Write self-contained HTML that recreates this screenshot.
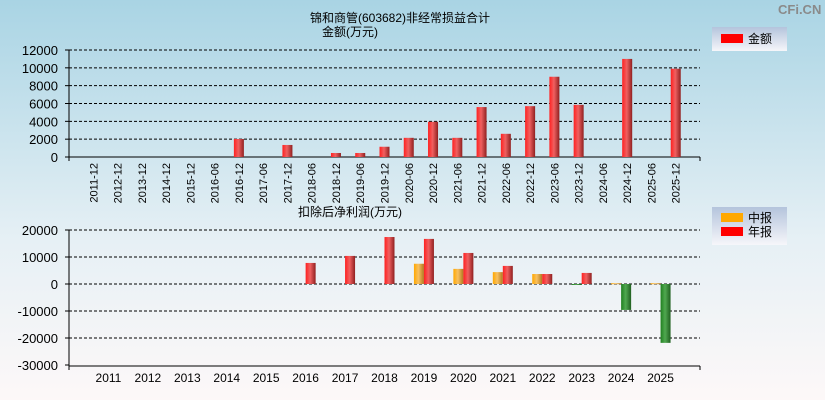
<!DOCTYPE html>
<html><head><meta charset="utf-8"><style>
body{margin:0;width:825px;height:400px;overflow:hidden}
svg{display:block;font-family:"Liberation Sans","Noto Sans CJK SC",sans-serif}
</style></head><body>
<svg id="c" width="825" height="400" xmlns="http://www.w3.org/2000/svg">
<defs>
<linearGradient id="bg" x1="0" y1="0" x2="0" y2="1"><stop offset="0" stop-color="#a9d4e4"/><stop offset="0.6" stop-color="#e6f0f5"/><stop offset="1" stop-color="#fdf8f8"/></linearGradient>
<linearGradient id="gr" x1="0" x2="1"><stop offset="0" stop-color="#ff2020"/><stop offset="0.45" stop-color="#f06060"/><stop offset="1" stop-color="#902020"/></linearGradient>
<linearGradient id="go" x1="0" x2="1"><stop offset="0" stop-color="#ffa800"/><stop offset="0.45" stop-color="#f8c060"/><stop offset="1" stop-color="#b07820"/></linearGradient>
<linearGradient id="gg" x1="0" x2="1"><stop offset="0" stop-color="#208020"/><stop offset="0.45" stop-color="#50a850"/><stop offset="1" stop-color="#206020"/></linearGradient>
<linearGradient id="lg" x1="0" y1="0" x2="0" y2="1"><stop offset="0" stop-color="#b4c4dc"/><stop offset="1" stop-color="#f6f6fa"/></linearGradient>
</defs>
<rect width="825" height="400" fill="url(#bg)"/>
<text x="778" y="14" font-size="13" font-weight="bold" fill="#8a8a8a">CFi.CN</text>
<text x="400" y="22" font-size="12" text-anchor="middle">锦和商管(603682)非经常损益合计</text>
<text x="350" y="36" font-size="12" text-anchor="middle">金额(万元)</text>
<text x="350" y="216" font-size="12" text-anchor="middle">扣除后净利润(万元)</text>
<g>
<rect x="712" y="27" width="75" height="24" fill="url(#lg)"/>
<rect x="721" y="34" width="22" height="9" fill="#ff0000"/>
<text x="748" y="43" font-size="12">金额</text>
</g>
<g>
<rect x="712" y="207" width="75" height="38" fill="url(#lg)"/>
<rect x="721" y="213" width="22" height="9" fill="#ffa800"/>
<text x="748" y="222" font-size="12">中报</text>
<rect x="721" y="227" width="22" height="9" fill="#ff0000"/>
<text x="748" y="236" font-size="12">年报</text>
</g>
<g id="top"></g><g id="bot"></g>
</svg>
<script>
const topCats=["2011-12","2012-12","2013-12","2014-12","2015-12","2016-06","2016-12","2017-06","2017-12","2018-06","2018-12","2019-06","2019-12","2020-06","2020-12","2021-06","2021-12","2022-06","2022-12","2023-06","2023-12","2024-06","2024-12","2025-06","2025-12"];
const topVals=[0,0,0,0,0,0,2020,0,1350,0,450,450,1150,2150,3950,2150,5600,2600,5700,9000,5850,0,11000,0,9900];
const topTicks=[0,2000,4000,6000,8000,10000,12000];
const years=["2011","2012","2013","2014","2015","2016","2017","2018","2019","2020","2021","2022","2023","2024","2025"];
const midVals=[0,0,0,0,0,0,0,0,7500,5600,4400,3700,-300,300,300];
const annVals=[0,0,0,0,0,7800,10400,17400,16700,11500,6700,3700,4100,-9600,-21800];
const botTicks=[-30000,-20000,-10000,0,10000,20000];
const NS="http://www.w3.org/2000/svg";
function mk(p,t,a){const e=document.createElementNS(NS,t);for(const k in a)e.setAttribute(k,a[k]);p.appendChild(e);return e;}
const L=69,R=700;
// top
const T=document.getElementById('top');
const ty=v=>157-v*(107/12000);
const tx=i=>L+(i+1)*(R-L)/(topCats.length+1);
topTicks.forEach(v=>{
 if(v>0){const g=mk(T,'line',{x1:L,x2:R,y1:ty(v),y2:ty(v),stroke:'#000','stroke-dasharray':'3,2'});
 
 }
 const t=mk(T,'text',{x:58,y:ty(v)+5,'font-size':13,'text-anchor':'end'});t.textContent=v;
 
 
 mk(T,'line',{x1:L-4,x2:L,y1:ty(v),y2:ty(v),stroke:'#000'});
});
mk(T,'line',{x1:L,x2:L,y1:ty(12000),y2:161,stroke:'#000'});
mk(T,'line',{x1:L,x2:R,y1:157,y2:157,stroke:'#000'});
mk(T,'line',{x1:R,x2:R,y1:157,y2:161,stroke:'#000'});
topCats.forEach((c,i)=>{
 const x=tx(i);
 const t=mk(T,'text',{x:0,y:0,'font-size':11,'text-anchor':'end',transform:`translate(${x+4},163) rotate(-90)`});t.textContent=c;
 
 
 const v=topVals[i];
 if(v>0){const r=mk(T,'rect',{x:x-5,y:ty(v),width:10,height:157-ty(v),fill:'url(#gr)'});
 
 }
});
// bottom
const B=document.getElementById('bot');
const by=v=>284-v*(27/10000);
const bx=i=>L+(i+1)*(R-L)/(years.length+1);
botTicks.forEach(v=>{
 if(v>-30000){const g=mk(B,'line',{x1:L,x2:R,y1:by(v),y2:by(v),stroke:'#000','stroke-dasharray':'3,2'});
 
 }
 const t=mk(B,'text',{x:58,y:by(v)+5,'font-size':13,'text-anchor':'end'});t.textContent=v;
 
 
 mk(B,'line',{x1:L-4,x2:L,y1:by(v),y2:by(v),stroke:'#000'});
});
mk(B,'line',{x1:L,x2:L,y1:by(20000),y2:370,stroke:'#000'});
mk(B,'line',{x1:L,x2:R,y1:366,y2:366,stroke:'#000'});
mk(B,'line',{x1:R,x2:R,y1:366,y2:370,stroke:'#000'});
years.forEach((y,i)=>{
 const x=bx(i);
 const t=mk(B,'text',{x:x,y:382,'font-size':12,'text-anchor':'middle'});t.textContent=y;
 
 
 [[midVals[i],x-10,'url(#go)','mid'],[annVals[i],x,'url(#gr)','annual']].forEach(([v,bx0,f,k])=>{
  if(v===0)return;
  const y0=Math.min(by(v),284),h=Math.max(Math.abs(by(v)-284),1);
  const r=mk(B,'rect',{x:bx0,y:y0,width:10,height:h,fill:v<0?'url(#gg)':f});
  
  
 });
});
</script>
</body></html>
